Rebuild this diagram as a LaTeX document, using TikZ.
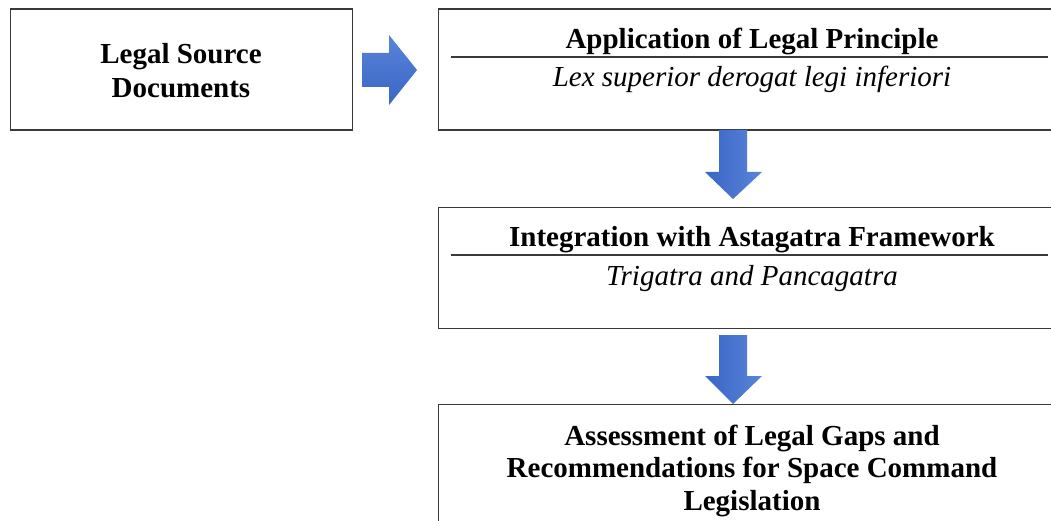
\documentclass[tikz,border=0pt]{standalone}
\usepackage{fontspec}
\setmainfont{Liberation Serif}
\usetikzlibrary{calc}
\definecolor{arrowdark}{HTML}{3A66C6}
\definecolor{arrowlight}{HTML}{5884D8}
\definecolor{edge}{HTML}{3A3A3A}
\tikzset{
  box/.style={draw=edge, line width=1.3pt, fill=white, rectangle, anchor=north west, inner sep=0pt},
  titletext/.style={font=\fontsize{29}{34}\selectfont\bfseries, anchor=base, inner sep=0pt},
  subtext/.style={font=\fontsize{29}{34}\selectfont\itshape, anchor=base, inner sep=0pt},
  multitext/.style={font=\fontsize{29}{34}\selectfont\bfseries, align=center, inner sep=0pt},
  rule/.style={draw=edge, line width=2pt},
  downarrow/.style={left color=arrowdark, right color=arrowlight, draw=none},
  rightarrow/.style={top color=arrowlight, bottom color=arrowdark, draw=none}
}
\begin{document}
\begin{tikzpicture}[x=1pt, y=-1pt]
\useasboundingbox (0,0) rectangle (1051,521);
\clip (0,0) rectangle (1051,521);
\fill[white] (0,0) rectangle (1051,521);

% boxes
\node[box, minimum width=342pt, minimum height=121pt] (src) at (10,8.5) {};
\node[box, minimum width=630pt, minimum height=121pt] (app) at (438,8.5) {};
\node[box, minimum width=630pt, minimum height=121pt] (int) at (438,207) {};
\node[box, minimum width=630pt, minimum height=160pt] (ass) at (438,404) {};

% box 1 text
\node[multitext] (srctext) at (181,71) {Legal Source\\Documents};

% box 2 text
\node[titletext] (apptitle) at (752,48.5) {Application of Legal Principle};
\draw[rule] (451,57) -- (1048,57);
\node[subtext] (appsub) at (752,86.5) {Lex superior derogat legi inferiori};

% box 3 text
\node[titletext] (inttitle) at (752,246.5) {Integration with Astagatra Framework};
\draw[rule] (451,255) -- (1048,255);
\node[subtext] (intsub) at (752,285.5) {Trigatra and Pancagatra};

% box 4 text
\node[multitext, font=\fontsize{29}{32.5}\selectfont\bfseries] (asstext) at (752,470.5) {Assessment of Legal Gaps and\\Recommendations for Space Command\\Legislation};

% block arrows
\path[rightarrow] (362,53) -- (389,53) -- (389,35) -- (417,70) -- (389,105) -- (389,87) -- (362,87) -- cycle;
\path[downarrow] (719,130) -- (747,130) -- (747,172) -- (762,172) -- (733,199) -- (705,172) -- (719,172) -- cycle;
\path[downarrow] (719,335) -- (747,335) -- (747,376) -- (762,376) -- (733,404) -- (705,376) -- (719,376) -- cycle;
\end{tikzpicture}
\end{document}
